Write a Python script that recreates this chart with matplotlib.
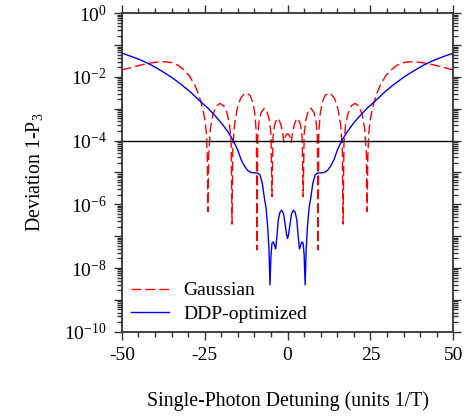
import numpy as np
import matplotlib
matplotlib.use("Agg")
import matplotlib.pyplot as plt
from matplotlib.ticker import FixedLocator, FixedFormatter, NullFormatter

# Gaussian pulse: detuning and log10(1-P3)
gauss_x = [-50, -46, -42, -39, -37, -35, -33, -31, -29.5, -28, -27, -26, -25, -24.5, -24.2, -24.0,
           -23.8, -23.3, -22.5, -21.5, -20.4, -19.3, -18.3, -17.5, -17.0, -16.75,
           -16.5, -16.0, -15.2, -14.2, -13.0, -12.3, -11.3, -10.4, -9.8, -9.4, -9.2,
           -9.0, -8.6, -8.0, -7.0, -6.2, -5.5, -5.0, -4.7,
           -4.4, -3.9, -3.2, -2.6, -2.0, -1.5, -1.1,
           -0.7, -0.3, 0, 0.3, 0.7,
           1.1, 1.5, 2.0, 2.6, 3.2, 3.9, 4.4,
           4.7, 5.0, 5.5, 6.2, 7.0, 8.0, 8.6, 9.0,
           9.2, 9.4, 9.8, 10.4, 11.3, 12.3, 13.0, 14.2, 15.2, 16.0, 16.5,
           16.75, 17.0, 17.5, 18.3, 19.3, 20.4, 21.5, 22.5, 23.3, 23.8,
           24.0, 24.2, 24.5, 25, 26, 27, 28, 29.5, 31, 33, 35, 37, 39, 42, 46, 50]
gauss_log = [-1.78, -1.67, -1.57, -1.53, -1.52, -1.55, -1.63, -1.80, -1.98, -2.25, -2.50, -2.82, -3.30, -3.75, -4.5, -6.23,
             -4.5, -3.65, -3.17, -2.92, -2.83, -2.90, -3.12, -3.5, -4.1, -6.62,
             -4.2, -3.5, -3.0, -2.68, -2.52, -2.51, -2.58, -2.82, -3.2, -3.8, -7.43,
             -3.9, -3.4, -3.12, -2.98, -3.08, -3.35, -3.8, -5.76,
             -3.9, -3.5, -3.3, -3.35, -3.5, -3.75, -4.05,
             -3.88, -3.80, -3.78, -3.80, -3.88,
             -4.05, -3.75, -3.5, -3.35, -3.3, -3.5, -3.9,
             -5.76, -3.8, -3.35, -3.08, -2.98, -3.12, -3.4, -3.9,
             -7.43, -3.8, -3.2, -2.82, -2.58, -2.51, -2.52, -2.68, -3.0, -3.5, -4.2,
             -6.62, -4.1, -3.5, -3.12, -2.90, -2.83, -2.92, -3.17, -3.65, -4.5,
             -6.23, -4.5, -3.75, -3.30, -2.82, -2.50, -2.25, -1.98, -1.80, -1.63, -1.55, -1.52, -1.53, -1.57, -1.67, -1.78]

# DDP-optimized pulse
ddp_x = [-50, -47, -44, -41, -38, -35, -32, -29, -26.4, -24, -22, -20, -18, -16.4, -15, -14, -13, -12,
         -11, -10, -9, -8.3, -7.6, -7.0, -6.5, -6.0, -5.6, -5.3, -5.0, -4.7, -4.3, -3.9, -3.6,
         -3.2, -2.8, -2.3, -1.75, -1.2, -0.7, -0.3, 0,
         0.3, 0.7, 1.2, 1.75, 2.3, 2.8, 3.2, 3.6, 3.9, 4.3, 4.7, 5.0, 5.3, 5.6, 6.0, 6.5, 7.0, 7.6,
         8.3, 9, 10, 11, 12, 13, 14, 15, 16.4, 18, 20, 22, 24, 26.4, 29, 32, 35, 38, 41, 44, 47, 50]
ddp_log = [-1.25, -1.36, -1.48, -1.63, -1.81, -2.01, -2.24, -2.50, -2.76, -2.98, -3.20, -3.44, -3.72, -3.99, -4.30, -4.60, -4.80, -4.94,
           -5.00, -5.01, -5.02, -5.08, -5.35, -5.80, -6.10, -6.70, -7.43, -8.53, -7.60, -7.22, -7.18, -7.30, -7.40,
           -7.00, -6.50, -6.25, -6.18, -6.30, -6.65, -6.95, -7.07,
           -6.95, -6.65, -6.30, -6.18, -6.25, -6.50, -7.00, -7.40, -7.30, -7.18, -7.22, -7.60, -8.53, -7.43, -6.70, -6.10, -5.80, -5.35,
           -5.08, -5.02, -5.01, -5.00, -4.94, -4.80, -4.60, -4.30, -3.99, -3.72, -3.44, -3.20, -2.98, -2.76, -2.50, -2.24, -2.01, -1.81, -1.63, -1.48, -1.36, -1.25]

threshold = 1e-4
xticks = [-50, -25, 0, 25, 50]

plt.rcParams['font.family'] = 'Liberation Serif'
plt.rcParams['mathtext.fontset'] = 'custom'
plt.rcParams['mathtext.rm'] = 'Liberation Serif'
plt.rcParams['mathtext.it'] = 'Liberation Serif:italic'

fig = plt.figure(figsize=(4.72, 4.18), dpi=100)
ax = fig.add_axes([0.258, 0.2065, 0.7025, 0.7617])

ax.plot(gauss_x, 10.0 ** np.array(gauss_log), color='#ff0000', lw=1.0, dashes=(7, 3), label='Gaussian')
ax.plot(ddp_x, 10.0 ** np.array(ddp_log), color='#0000ff', lw=1.0, label='DDP-optimized')
ax.axhline(threshold, color='black', lw=1.0)

ax.set_yscale('log')
ax.set_xlim(-50, 50)
ax.set_ylim(1e-10, 1)

ax.xaxis.set_major_locator(FixedLocator(xticks))
ax.xaxis.set_minor_locator(FixedLocator(np.arange(-50, 51, 5)))
ax.set_xticklabels([str(v) for v in xticks])

major_y = [10.0 ** e for e in range(-10, 1)]
ax.yaxis.set_major_locator(FixedLocator(major_y))
ax.yaxis.set_major_formatter(FixedFormatter(
    [r'$10^{%d}$' % e if e % 2 == 0 else '' for e in range(-10, 1)]))
minor_y = [m * 10.0 ** e for e in range(-10, 0) for m in range(2, 10)]
ax.yaxis.set_minor_locator(FixedLocator(minor_y))
ax.yaxis.set_minor_formatter(NullFormatter())

ax.tick_params(which='both', direction='out', top=True, right=True, labelsize=14, width=1.0, color='#333333')
ax.tick_params(which='major', length=6, pad=5)
ax.tick_params(which='minor', length=3.5)
for s in ax.spines.values():
    s.set_linewidth(1.3)
    s.set_color('#333333')

ax.set_xlabel('Single-Photon Detuning (units 1/T)', fontsize=14.3, labelpad=20)
ax.set_ylabel('Deviation 1-P$_3$', fontsize=14.3, labelpad=14)

ax.legend(loc='lower left', frameon=False, fontsize=14, handlelength=2.0,
          handletextpad=0.7, labelspacing=0.3, borderaxespad=0.05)

fig.savefig('out.png', dpi=100)
